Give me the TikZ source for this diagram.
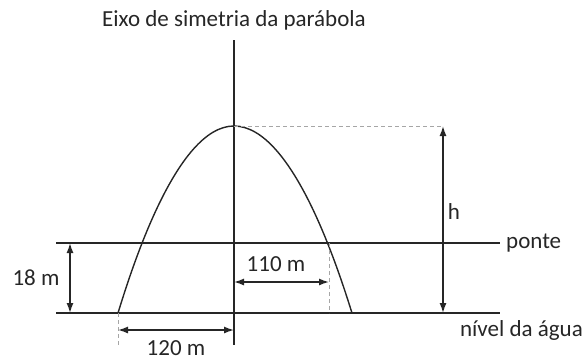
\documentclass[tikz,border=0pt]{standalone}
\usepackage{fontspec}
\setmainfont{Carlito}
\usetikzlibrary{arrows.meta}
\begin{document}
\begin{tikzpicture}[x=1pt,y=-1pt,
  line/.style={line width=1.4pt, black!85},
  dim/.style={line width=1.4pt, black!85, {Latex[length=10pt,width=7pt]}-{Latex[length=10pt,width=7pt]}},
  guide/.style={line width=1pt, gray!70, dash pattern=on 4pt off 3pt},
  lbl/.style={font=\fontsize{23}{26}\selectfont, text=black!85, inner sep=0pt}]
\useasboundingbox (0,0) rectangle (584,360);
% coordinates
\coordinate (axtop) at (234,40);
\coordinate (axbot) at (234,345);
\coordinate (vert) at (234,126);
\coordinate (pl) at (56,243);
\coordinate (pr) at (500,243);
\coordinate (wl) at (56,313);
\coordinate (wr) at (500,313);
\coordinate (footl) at (118,313);
\coordinate (footr) at (352,313);
\coordinate (hx) at (443,126);
\coordinate (hb) at (443,313);
\coordinate (d110t) at (329,243);
\coordinate (d110b) at (329,313);
\coordinate (a110l) at (234,282);
\coordinate (a110r) at (329,282);
\coordinate (d120t) at (118,313);
\coordinate (d120b) at (118,345);
\coordinate (a120l) at (118,330);
\coordinate (a120r) at (234,330);
\coordinate (a18t) at (70,243);
\coordinate (a18b) at (70,313);
% lines
\draw[line] (axtop) -- (axbot);
\draw[line] (pl) -- (pr);
\draw[line] (wl) -- (wr);
\draw[line] (footl) parabola bend (vert) (footr);
% guides
\draw[guide] (vert) -- (hx);
\draw[guide] (d110t) -- (d110b);
\draw[guide] (d120t) -- (d120b);
% dimensions
\draw[dim] (hx) -- (hb);
\draw[dim] (a110l) -- (a110r);
\draw[dim] (a120l) -- (a120r);
\draw[dim] (a18t) -- (a18b);
% labels
\node[lbl] (title) at (234,20) {Eixo de simetria da parábola};
\node[lbl, anchor=west] (ponte) at (506,243) {ponte};
\node[lbl, anchor=east] (agua) at (583,330) {nível da água};
\node[lbl] (h) at (454,212) {h};
\node[lbl] (l110) at (276,264) {110 m};
\node[lbl, anchor=base] (l120) at (176,355) {120 m};
\node[lbl] (l18) at (36,278) {18 m};
\end{tikzpicture}
\end{document}
